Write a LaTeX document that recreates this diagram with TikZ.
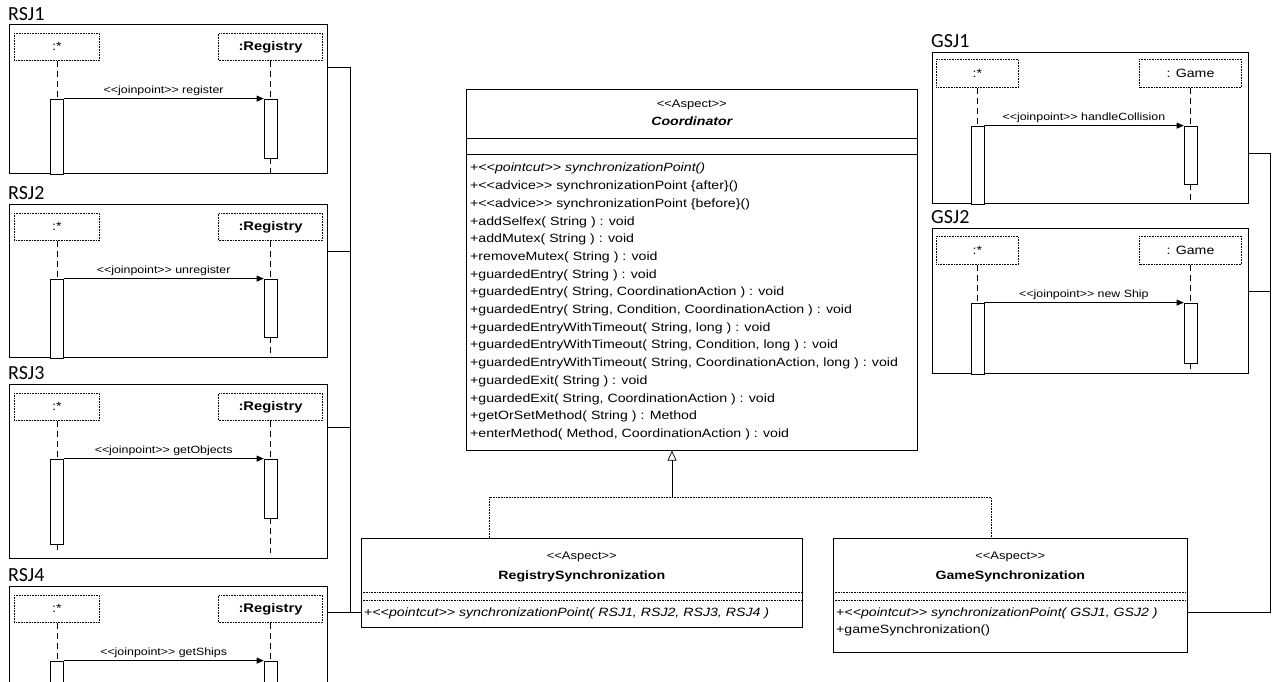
\documentclass[tikz,border=0pt]{standalone}
\usepackage{fontspec}
\setmainfont[FakeStretch=1.18]{Liberation Sans}
\newfontfamily\labelfont{Carlito}
\usepackage{tikz}
\usetikzlibrary{arrows.meta,positioning}
\newcommand{\stereo}[1]{<\kern0pt<#1>\kern0pt>}

\begin{document}
\begin{tikzpicture}[
    x=1pt, y=-1pt,
    font=\fontsize{12}{17.7}\selectfont,
    seqframe/.style={draw, line width=0.8pt, anchor=north west, inner sep=0, minimum width=318pt},
    framelabel/.style={font=\labelfont\fontsize{20}{20}\selectfont, inner sep=0},
    objhead/.style={draw, densely dotted, line width=0.6pt, inner sep=0, minimum height=27pt, font=\fontsize{12}{12}\selectfont},
    regname/.style={font=\fontsize{12.5}{12}\selectfont\bfseries},
    act/.style={draw, line width=0.6pt, fill=white, minimum width=13pt, inner sep=0},
    life/.style={line width=0.6pt, dash pattern=on 6pt off 4pt},
    msg/.style={-{Triangle[length=7pt,width=6pt]}, line width=0.6pt},
    msglabel/.style={above, font=\fontsize{10.5}{12}\selectfont, inner sep=3pt},
    classbox/.style={draw, line width=0.6pt, anchor=north west, inner sep=0},
    classtext/.style={inner sep=0, anchor=base},
    classname/.style={inner sep=0, anchor=base, font=\fontsize{12}{12}\selectfont\bfseries},
    sepline/.style={line width=0.6pt, densely dotted},
    link/.style={line width=0.7pt},
    realize/.style={line width=0.6pt, densely dotted},
    genarrow/.style={-{Triangle[open,length=10pt,width=9pt]}, line width=0.7pt}
]
    \clip (0,0) rectangle (1274,681);

    % registry join points
    \node[seqframe, minimum height=149pt] (rsj1) at (9,24) {};
    \node[framelabel, above right=3pt and -1pt of rsj1.north west] (rsj1l) {RSJ1};
    \node[objhead, minimum width=85pt, below right=9pt and 5pt of rsj1.north west] (rsj1cl) {:*};
    \node[objhead, regname, minimum width=104pt, below left=9pt and 5pt of rsj1.north east] (rsj1reg) {:Registry};
    \node[act, minimum height=75pt, below=38pt of rsj1cl] (rsj1clact) {};
    \node[act, minimum height=59pt, below=38pt of rsj1reg] (rsj1regact) {};
    \draw[life] (rsj1cl) -- (rsj1clact);
    \draw[life] (rsj1reg) -- (rsj1regact);
    \draw[life] (rsj1regact) -- (rsj1regact |- rsj1.south);
    \draw[msg] (rsj1clact.north east) -- node[msglabel] {\stereo{joinpoint} register} (rsj1regact.north west);

    \node[seqframe, minimum height=153pt] (rsj2) at (9,204) {};
    \node[framelabel, above right=4pt and -1pt of rsj2.north west] (rsj2l) {RSJ2};
    \node[objhead, minimum width=85pt, below right=9pt and 5pt of rsj2.north west] (rsj2cl) {:*};
    \node[objhead, regname, minimum width=104pt, below left=9pt and 5pt of rsj2.north east] (rsj2reg) {:Registry};
    \node[act, minimum height=79pt, below=38pt of rsj2cl] (rsj2clact) {};
    \node[act, minimum height=58pt, below=38pt of rsj2reg] (rsj2regact) {};
    \draw[life] (rsj2cl) -- (rsj2clact);
    \draw[life] (rsj2reg) -- (rsj2regact);
    \draw[life] (rsj2regact) -- (rsj2regact |- rsj2.south);
    \draw[msg] (rsj2clact.north east) -- node[msglabel] {\stereo{joinpoint} unregister} (rsj2regact.north west);

    \node[seqframe, minimum height=174pt] (rsj3) at (9,384) {};
    \node[framelabel, above right=4pt and -1pt of rsj3.north west] (rsj3l) {RSJ3};
    \node[objhead, minimum width=85pt, below right=9pt and 5pt of rsj3.north west] (rsj3cl) {:*};
    \node[objhead, regname, minimum width=104pt, below left=9pt and 5pt of rsj3.north east] (rsj3reg) {:Registry};
    \node[act, minimum height=85pt, below=38pt of rsj3cl] (rsj3clact) {};
    \node[act, minimum height=59pt, below=38pt of rsj3reg] (rsj3regact) {};
    \coordinate (rsj3end) at ([yshift=6pt]rsj3.south);
    \draw[life] (rsj3cl) -- (rsj3clact);
    \draw[life] (rsj3reg) -- (rsj3regact);
    \draw[life] (rsj3clact) -- (rsj3clact |- rsj3end);
    \draw[life] (rsj3regact) -- (rsj3regact |- rsj3end);
    \draw[msg] (rsj3clact.north east) -- node[msglabel] {\stereo{joinpoint} getObjects} (rsj3regact.north west);

    \node[seqframe, minimum height=150pt] (rsj4) at (9,586) {};
    \node[framelabel, above right=4pt and -1pt of rsj4.north west] (rsj4l) {RSJ4};
    \node[objhead, minimum width=85pt, below right=9pt and 5pt of rsj4.north west] (rsj4cl) {:*};
    \node[objhead, regname, minimum width=104pt, below left=9pt and 5pt of rsj4.north east] (rsj4reg) {:Registry};
    \node[act, minimum height=80pt, below=38pt of rsj4cl] (rsj4clact) {};
    \node[act, minimum height=80pt, below=38pt of rsj4reg] (rsj4regact) {};
    \draw[life] (rsj4cl) -- (rsj4clact);
    \draw[life] (rsj4reg) -- (rsj4regact);
    \draw[msg] (rsj4clact.north east) -- node[msglabel] {\stereo{joinpoint} getShips} (rsj4regact.north west);

    % game join points
    \node[seqframe, minimum width=316pt, minimum height=151pt] (gsj1) at (932,52) {};
    \node[framelabel, above right=4pt and -1pt of gsj1.north west] (gsj1l) {GSJ1};
    \node[objhead, minimum width=82pt, minimum height=28pt, below right=7pt and 4pt of gsj1.north west] (gsj1cl) {:*};
    \node[objhead, minimum width=102pt, minimum height=28pt, below left=7pt and 7pt of gsj1.north east] (gsj1game) {: Game};
    \node[act, minimum height=78pt, below=38pt of gsj1cl] (gsj1clact) {};
    \node[act, minimum height=58pt, below=38pt of gsj1game] (gsj1gameact) {};
    \draw[life] (gsj1cl) -- (gsj1clact);
    \draw[life] (gsj1game) -- (gsj1gameact);
    \draw[life] (gsj1gameact) -- (gsj1gameact |- gsj1.south);
    \draw[msg] (gsj1clact.north east) -- node[msglabel] {\stereo{joinpoint} handleCollision} (gsj1gameact.north west);

    \node[seqframe, minimum width=316pt, minimum height=145pt] (gsj2) at (932,228) {};
    \node[framelabel, above right=4pt and -1pt of gsj2.north west] (gsj2l) {GSJ2};
    \node[objhead, minimum width=82pt, minimum height=28pt, below right=8pt and 4pt of gsj2.north west] (gsj2cl) {:*};
    \node[objhead, minimum width=102pt, minimum height=28pt, below left=8pt and 7pt of gsj2.north east] (gsj2game) {: Game};
    \node[act, minimum height=71pt, below=38pt of gsj2cl] (gsj2clact) {};
    \node[act, minimum height=60pt, below=38pt of gsj2game] (gsj2gameact) {};
    \draw[life] (gsj2cl) -- (gsj2clact);
    \draw[life] (gsj2game) -- (gsj2gameact);
    \draw[life] (gsj2gameact) -- (gsj2gameact |- gsj2.south);
    \draw[msg] (gsj2clact.north east) -- node[msglabel] {\stereo{joinpoint} new Ship} (gsj2gameact.north west);

    % aspects
    \node[classbox, minimum width=451pt, minimum height=361pt] (coord) at (466,89) {};
    \node[classtext, font=\fontsize{11}{11}\selectfont] (coordst) at ([yshift=-18pt]coord.north) {\stereo{Aspect}};
    \node[classname, font=\fontsize{12}{12}\selectfont\bfseries\itshape] (coordname) at ([yshift=-36pt]coord.north) {Coordinator};
    \draw[link] ([yshift=-49pt]coord.north west) -- ([yshift=-49pt]coord.north east);
    \draw[link] ([yshift=-65pt]coord.north west) -- ([yshift=-65pt]coord.north east);
    \node[anchor=north west, inner sep=0, align=left] (coordops) at ([shift={(4pt,-74pt)}]coord.north west) {%
        +\textit{\stereo{pointcut} synchronizationPoint()}\\
        +\stereo{advice} synchronizationPoint \{after\}()\\
        +\stereo{advice} synchronizationPoint \{before\}()\\
        +addSelfex( String ) : void\\
        +addMutex( String ) : void\\
        +removeMutex( String ) : void\\
        +guardedEntry( String ) : void\\
        +guardedEntry( String, CoordinationAction ) : void\\
        +guardedEntry( String, Condition, CoordinationAction ) : void\\
        +guardedEntryWithTimeout( String, long ) : void\\
        +guardedEntryWithTimeout( String, Condition, long ) : void\\
        +guardedEntryWithTimeout( String, CoordinationAction, long ) : void\\
        +guardedExit( String ) : void\\
        +guardedExit( String, CoordinationAction ) : void\\
        +getOrSetMethod( String ) : Method\\
        +enterMethod( Method, CoordinationAction ) : void};

    \node[classbox, minimum width=441pt, minimum height=89pt] (regsync) at (361,538) {};
    \node[classtext, font=\fontsize{11}{11}\selectfont] (regst) at ([yshift=-21pt]regsync.north) {\stereo{Aspect}};
    \node[classname] (regname) at ([yshift=-41pt]regsync.north) {RegistrySynchronization};
    \draw[sepline] ([yshift=-54pt]regsync.north west) -- ([yshift=-54pt]regsync.north east);
    \draw[sepline] ([yshift=-62pt]regsync.north west) -- ([yshift=-62pt]regsync.north east);
    \node[anchor=base west, inner sep=0] (regops) at ([shift={(3pt,-78pt)}]regsync.north west) {+\textit{\stereo{pointcut} synchronizationPoint( RSJ1, RSJ2, RSJ3, RSJ4 )}};

    \node[classbox, minimum width=354pt, minimum height=114pt] (gamesync) at (833,538) {};
    \node[classtext, font=\fontsize{11}{11}\selectfont] (gamest) at ([yshift=-21pt]gamesync.north) {\stereo{Aspect}};
    \node[classname] (gamename) at ([yshift=-41pt]gamesync.north) {GameSynchronization};
    \draw[sepline] ([yshift=-54pt]gamesync.north west) -- ([yshift=-54pt]gamesync.north east);
    \draw[sepline] ([yshift=-62pt]gamesync.north west) -- ([yshift=-62pt]gamesync.north east);
    \node[anchor=base west, inner sep=0] (gameop1) at ([shift={(3pt,-78pt)}]gamesync.north west) {+\textit{\stereo{pointcut} synchronizationPoint( GSJ1, GSJ2 )}};
    \node[anchor=base west, inner sep=0] (gameop2) at ([shift={(3pt,-95pt)}]gamesync.north west) {+gameSynchronization()};

    % generalization
    \coordinate (genjoin) at (672,497);
    \draw[genarrow] (genjoin) -- (genjoin |- coord.south);
    \draw[realize] ([xshift=128pt]regsync.north west) |- (genjoin) -| ([xshift=158pt]gamesync.north west);

    % pointcut links
    \coordinate (rbus) at (350,612);
    \coordinate (rsj1pt) at ([yshift=-43pt]rsj1.north east);
    \coordinate (rsj2pt) at ([yshift=-47pt]rsj2.north east);
    \coordinate (rsj3pt) at ([yshift=-43pt]rsj3.north east);
    \coordinate (rsj4pt) at ([yshift=-26pt]rsj4.north east);
    \draw[link] (rsj1pt) -| (rbus);
    \draw[link] (rsj2pt) -- (rsj2pt -| rbus);
    \draw[link] (rsj3pt) -- (rsj3pt -| rbus);
    \draw[link] (rsj4pt) -- (rsj4pt -| regsync.west);

    \coordinate (gbus) at (1270,612);
    \coordinate (gsj1pt) at ([yshift=-101pt]gsj1.north east);
    \coordinate (gsj2pt) at ([yshift=-63pt]gsj2.north east);
    \draw[link] (gsj1pt) -| (gbus) -- (gbus -| gamesync.east);
    \draw[link] (gsj2pt) -- (gsj2pt -| gbus);
\end{tikzpicture}
\end{document}
